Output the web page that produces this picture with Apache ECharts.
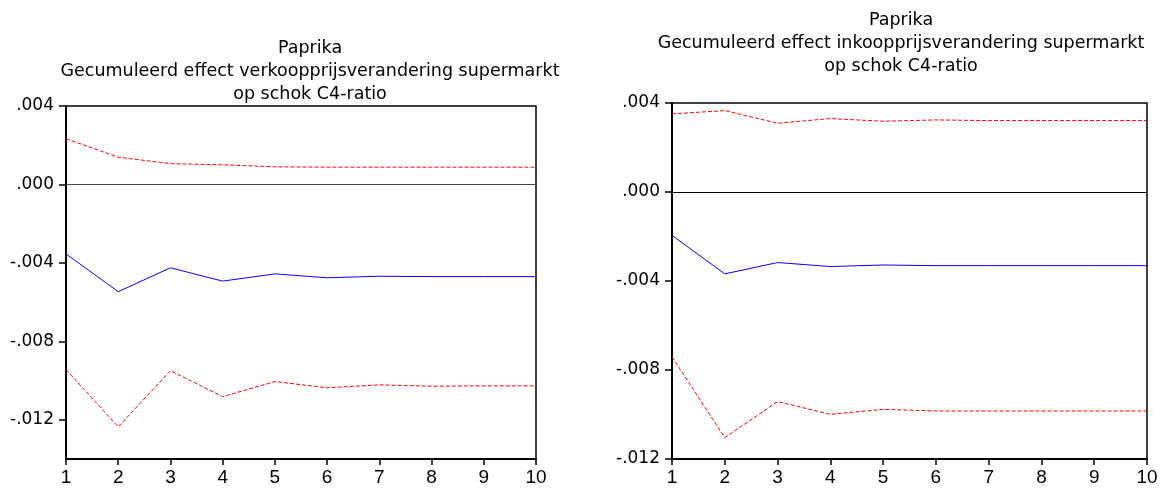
<!DOCTYPE html>
<html><head><meta charset="utf-8">
<script src="https://cdn.jsdelivr.net/npm/echarts@6/dist/echarts.min.js"></script>
<style>html,body{margin:0;padding:0;background:#fff}#c{width:1165px;height:493px}</style>
</head><body><div id="c"></div>
<script>
const periods = ['1','2','3','4','5','6','7','8','9','10'];
const leftTitle = ['Paprika', 'Gecumuleerd effect verkoopprijsverandering supermarkt', 'op schok C4-ratio'];
const rightTitle = ['Paprika', 'Gecumuleerd effect inkoopprijsverandering supermarkt', 'op schok C4-ratio'];
const leftTicks = [-0.012, -0.008, -0.004, 0, 0.004];
const rightTicks = [-0.012, -0.008, -0.004, 0, 0.004];
// Left: verkoopprijs
const leftMid = [-0.00354, -0.00547, -0.00425, -0.00493, -0.00456, -0.00476, -0.00468, -0.00470, -0.00470, -0.00470];
const leftUpper = [0.00233, 0.00139, 0.00106, 0.00100, 0.00090, 0.00088, 0.00088, 0.00088, 0.00088, 0.00088];
const leftLower = [-0.00944, -0.01236, -0.00950, -0.01082, -0.01005, -0.01037, -0.01022, -0.01029, -0.01027, -0.01027];
// Right: inkoopprijs
const rightMid = [-0.00195, -0.00368, -0.00317, -0.00335, -0.00328, -0.00331, -0.00331, -0.00331, -0.00331, -0.00331];
const rightUpper = [0.00351, 0.00366, 0.00309, 0.00330, 0.00318, 0.00324, 0.00321, 0.00321, 0.00321, 0.00321];
const rightLower = [-0.00741, -0.01104, -0.00942, -0.00999, -0.00977, -0.00984, -0.00984, -0.00984, -0.00984, -0.00984];

const yFont = '"DejaVu Sans", sans-serif';
const xFont = '"Liberation Sans", Arial, sans-serif';
const tFont = '"DejaVu Sans", sans-serif';
function fmt(v){ if (Math.abs(v) < 1e-12) return '.000'; return v.toFixed(3).replace('0.', '.'); }
function xAxis(g){ return { type:'category', gridIndex:g, data:periods, boundaryGap:false,
  axisLine:{show:true, onZero:false, lineStyle:{color:'#000', width:2}},
  axisTick:{show:true, alignWithLabel:true, length:6, lineStyle:{color:'#000', width:1.5}},
  axisLabel:{color:'#000', fontFamily:xFont, fontSize:19, margin:9, interval:0},
  splitLine:{show:false} }; }
function yAxis(g, min, max, ticks){ return { type:'value', gridIndex:g, min:min, max:max,
  axisLine:{show:true, onZero:false, lineStyle:{color:'#000', width:2}},
  axisTick:{show:true, length:7, customValues:ticks, lineStyle:{color:'#000', width:1.5}},
  axisLabel:{color:'#000', fontFamily:yFont, fontSize:17, margin:12, customValues:ticks, formatter:fmt},
  splitLine:{show:false} }; }
function ser(g, data, color, dashed, zero){ const s = { type:'line', xAxisIndex:g, yAxisIndex:g, data:data, symbol:'none',
  lineStyle:{color:color, width:1, type: dashed ? [4,2] : 'solid'}, silent:true, animation:false };
  if (zero) s.markLine = { symbol:'none', silent:true, label:{show:false}, lineStyle:{color:zero, width:1, type:'solid'}, data:[{yAxis:0}], animation:false };
  return s; }
function titleEls(lines, cx, ys){ return lines.map((t,i)=>({ type:'text', x:cx, y:ys[i], silent:true,
  style:{ text:t, fill:'#000', font:'17.5px ' + tFont, textAlign:'center', textVerticalAlign:'middle' } })); }

const chart = echarts.init(document.getElementById('c'));
chart.setOption({
  animation:false,
  graphic:[].concat(titleEls(leftTitle, 310, [48, 71, 94]), titleEls(rightTitle, 901, [20, 43, 66])),
  grid:[
    {left:66, top:106, width:470, height:353, show:true, borderColor:'#000', borderWidth:1.5, backgroundColor:'transparent'},
    {left:672, top:103, width:475, height:356, show:true, borderColor:'#000', borderWidth:1.5, backgroundColor:'transparent'}
  ],
  xAxis:[xAxis(0), xAxis(1)],
  yAxis:[yAxis(0, -0.014, 0.004, leftTicks), yAxis(1, -0.012, 0.004, rightTicks)],
  series:[
    ser(0, leftUpper, '#ff0000', true, '#444'),
    ser(0, leftMid, '#0000ff', false),
    ser(0, leftLower, '#ff0000', true),
    ser(1, rightUpper, '#ff0000', true, '#000'),
    ser(1, rightMid, '#0000ff', false),
    ser(1, rightLower, '#ff0000', true)
  ]
});
</script></body></html>
